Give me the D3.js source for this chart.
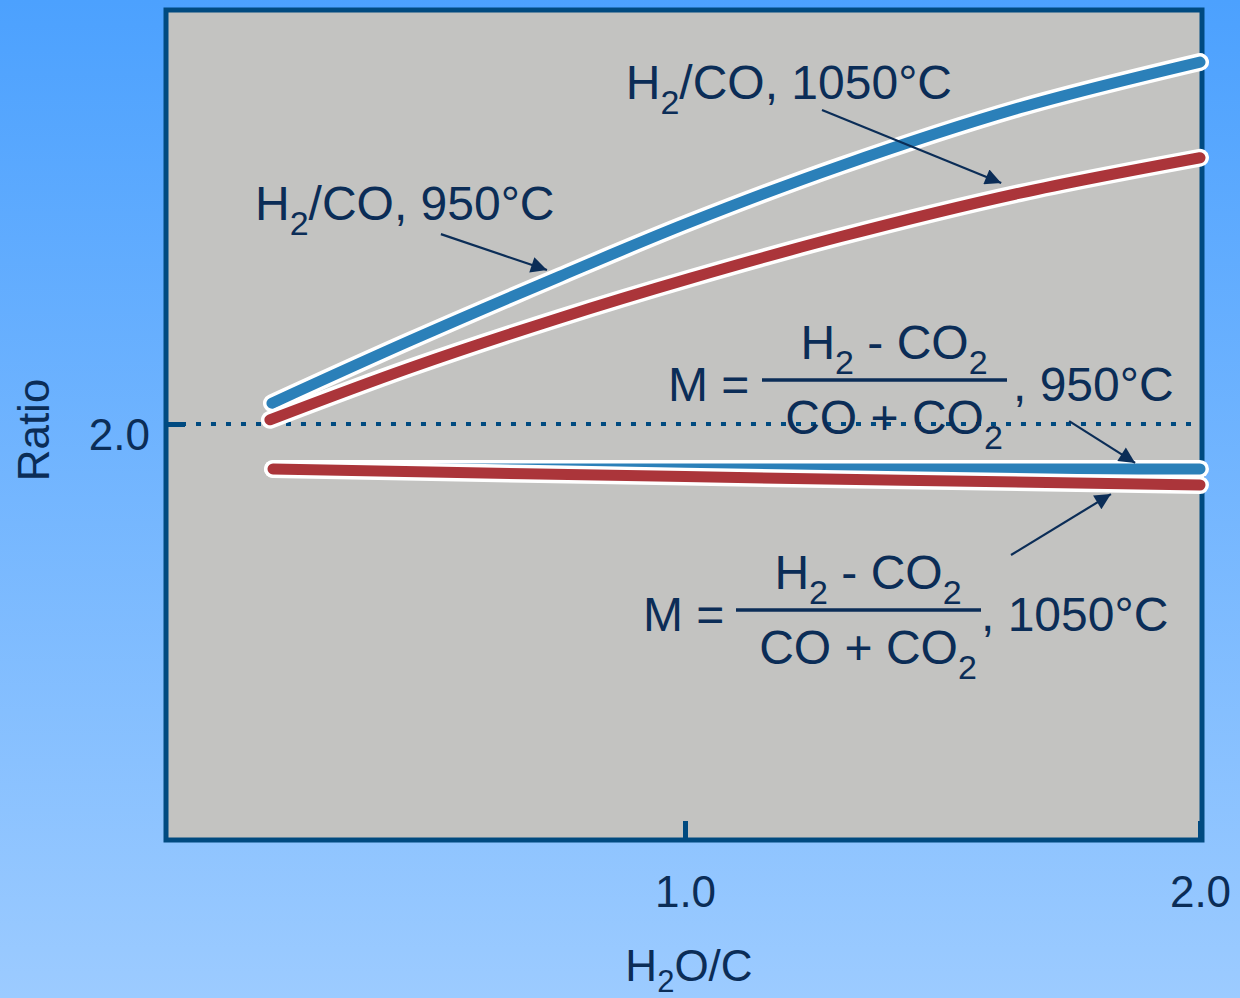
<!DOCTYPE html>
<html>
<head>
<meta charset="utf-8">
<script src="https://cdn.jsdelivr.net/npm/d3@7"></script>
<style>
  html, body { margin: 0; padding: 0; }
  svg { display: block; }
  text { font-family: "Liberation Sans", Arial, Helvetica, sans-serif; }
</style>
</head>
<body>
<svg id="chart" width="1240" height="998"></svg>
<script>
// ---- data ----
const xTicks = [1.0, 2.0];
const xTickLabels = ["1.0", "2.0"];
const yTicks = [2.0];
const yTickLabels = ["2.0"];

const h2co950X  = [0.198, 0.466, 0.757, 1.010, 1.301, 1.650, 2.000];
const h2co950Y  = [2.10, 2.40, 2.71, 2.97, 3.24, 3.52, 3.74];
const h2co1050X = [0.194, 0.466, 0.757, 1.010, 1.301, 1.650, 2.000];
const h2co1050Y = [2.02, 2.27, 2.51, 2.70, 2.90, 3.11, 3.28];
const m950X  = [0.200, 1.000, 2.000];
const m950Y  = [1.784, 1.784, 1.784];
const m1050X = [0.200, 1.000, 2.000];
const m1050Y = [1.784, 1.747, 1.707];

// ---- layout ----
const W = 1240, H = 998;
const svg = d3.select("#chart");
const navy = "#0b2d57";
const frameCol = "#004a80";
const x = d3.scaleLinear().domain([0, 2]).range([170, 1200]);
const y = d3.scaleLinear().domain([0, 4]).range([840, 8]);

const defs = svg.append("defs");
const grad = defs.append("linearGradient").attr("id", "bg").attr("x1", 0).attr("y1", 0).attr("x2", 0).attr("y2", 1);
grad.append("stop").attr("offset", "0%").attr("stop-color", "#4ca1fe");
grad.append("stop").attr("offset", "100%").attr("stop-color", "#9ccbff");
defs.append("marker").attr("id", "arr").attr("viewBox", "0 0 10 10")
  .attr("refX", 10).attr("refY", 5).attr("markerWidth", 22).attr("markerHeight", 16)
  .attr("markerUnits", "userSpaceOnUse").attr("orient", "auto")
  .append("path").attr("d", "M0,0 L10,5 L0,10 Z").attr("fill", navy);

svg.append("rect").attr("width", W).attr("height", H).attr("fill", "url(#bg)");

// plot area
const fx0 = 166, fx1 = 1202, fy0 = 10, fy1 = 840;
svg.append("rect").attr("x", fx0).attr("y", fy0).attr("width", fx1 - fx0).attr("height", fy1 - fy0)
  .attr("fill", "#c3c3c1");

// dotted reference at 2.0
svg.append("line").attr("x1", fx0).attr("x2", fx1).attr("y1", y(2)).attr("y2", y(2))
  .attr("stroke", frameCol).attr("stroke-width", 4).attr("stroke-dasharray", "5,10");

// frame
svg.append("rect").attr("x", fx0).attr("y", fy0).attr("width", fx1 - fx0).attr("height", fy1 - fy0)
  .attr("fill", "none").attr("stroke", frameCol).attr("stroke-width", 5);

// axes
const yAxis = d3.axisLeft(y).tickValues(yTicks).tickFormat((d, i) => yTickLabels[i])
  .tickSizeInner(-19).tickSizeOuter(0).tickPadding(16);
const gy = svg.append("g").attr("transform", `translate(${fx0},0)`).call(yAxis);
gy.select(".domain").remove();
gy.selectAll(".tick line").attr("stroke", frameCol).attr("stroke-width", 5);
gy.selectAll(".tick text").attr("fill", navy).attr("font-size", 44).attr("dy", "0.57em")
  .style("font-family", "'Liberation Sans', Arial, sans-serif");

const xAxis = d3.axisBottom(x).tickValues(xTicks).tickFormat((d, i) => xTickLabels[i])
  .tickSizeInner(-19).tickSizeOuter(0).tickPadding(0);
const gx = svg.append("g").attr("transform", `translate(0,${fy1})`).call(xAxis);
gx.select(".domain").remove();
gx.selectAll(".tick line").attr("stroke", frameCol).attr("stroke-width", 5);
gx.selectAll(".tick text").attr("fill", navy).attr("font-size", 44).attr("y", 67).attr("dy", 0)
  .style("font-family", "'Liberation Sans', Arial, sans-serif");

// lines
const line = d3.line().x(d => x(d[0])).y(d => y(d[1])).curve(d3.curveCatmullRom.alpha(0.5));
function drawSeries(xs, ys, color) {
  const pts = xs.map((v, i) => [v, ys[i]]);
  svg.append("path").attr("d", line(pts)).attr("fill", "none")
    .attr("stroke", "#ffffff").attr("stroke-width", 18).attr("stroke-linecap", "round").attr("stroke-linejoin", "round");
  svg.append("path").attr("d", line(pts)).attr("fill", "none")
    .attr("stroke", color).attr("stroke-width", 11).attr("stroke-linecap", "round").attr("stroke-linejoin", "round");
}
const blue = "#2b80b9", red = "#ab353a";
drawSeries(m950X, m950Y, blue);
drawSeries(m1050X, m1050Y, red);
drawSeries(h2co950X, h2co950Y, blue);
drawSeries(h2co1050X, h2co1050Y, red);

// axis titles
svg.append("text").attr("transform", "translate(49,430) rotate(-90)").attr("text-anchor", "middle")
  .attr("fill", navy).attr("font-size", 44).text("Ratio");
const xt = svg.append("text").attr("x", 689).attr("y", 981).attr("text-anchor", "middle")
  .attr("fill", navy).attr("font-size", 44);
xt.append("tspan").text("H");
xt.append("tspan").attr("font-size", 31).attr("dy", 11).text("2");
xt.append("tspan").attr("dy", -11).text("O/C");

// annotations
function sub(t, parts, big, small, off) {
  parts.forEach(p => {
    if (p.s) t.append("tspan").attr("font-size", small).attr("dy", off).text(p.s);
    else t.append("tspan").attr("font-size", big).attr("dy", p.after ? -off : 0).text(p.t);
  });
}
function label(px, py, parts, anchor) {
  const t = svg.append("text").attr("x", px).attr("y", py).attr("fill", navy)
    .attr("font-size", 48).attr("text-anchor", anchor || "start");
  sub(t, parts, 48, 34, 15);
  return t;
}
label(x(0.165), y(2.98), [{t: "H"}, {s: "2"}, {t: "/CO, 950°C", after: true}]);
label(x(0.885), y(3.562), [{t: "H"}, {s: "2"}, {t: "/CO, 1050°C", after: true}]);

function formula(bx, by, suffix, sfx, mdx) {
  svg.append("text").attr("x", bx + mdx).attr("y", by + 21).attr("fill", navy).attr("font-size", 48).text("M =");
  svg.append("line").attr("x1", bx).attr("x2", bx + 245).attr("y1", by).attr("y2", by)
    .attr("stroke", navy).attr("stroke-width", 3.5);
  label(bx + 132, by - 21, [{t: "H"}, {s: "2"}, {t: " - CO", after: true}, {s: "2"}], "middle");
  label(bx + 132, by + 54, [{t: "CO + CO"}, {s: "2"}], "middle");
  svg.append("text").attr("x", bx + sfx).attr("y", by + 21).attr("fill", navy).attr("font-size", 48).text(suffix);
}
formula(762, y(2.2115), ", 950°C", 251, -94);
formula(736, y(1.1058), ", 1050°C", 245, -93);

// arrows
const arrows = [
  [0.526, 2.913, 0.732, 2.740],
  [1.266, 3.510, 1.614, 3.159],
  [1.746, 2.014, 1.874, 1.813],
  [1.633, 1.370, 1.827, 1.663]
];
arrows.forEach(a => {
  svg.append("line").attr("x1", x(a[0])).attr("y1", y(a[1])).attr("x2", x(a[2])).attr("y2", y(a[3]))
    .attr("stroke", navy).attr("stroke-width", 2.2).attr("marker-end", "url(#arr)");
});
</script>
</body>
</html>
